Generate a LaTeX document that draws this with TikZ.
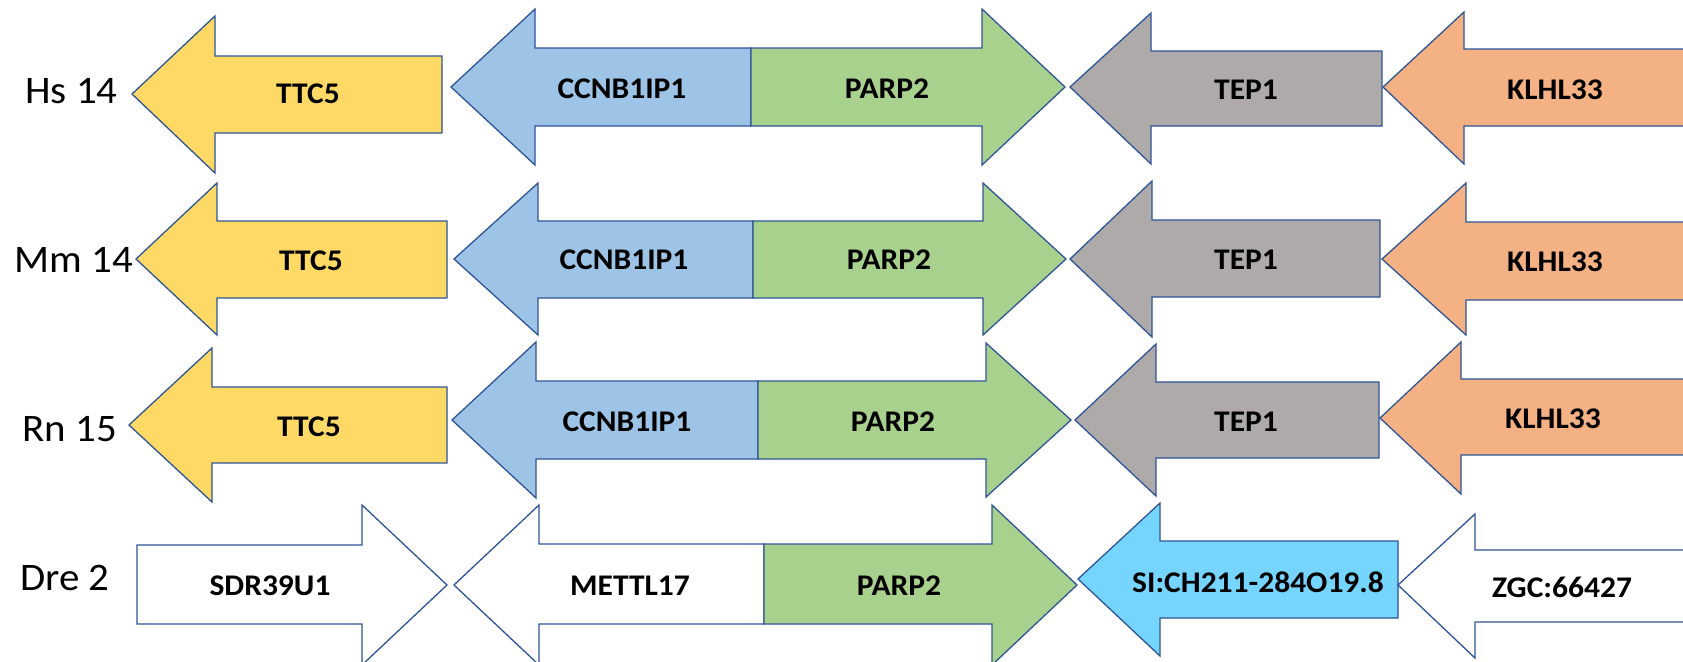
\documentclass[tikz,border=0pt]{standalone}
\usepackage{graphicx}
\usepackage{fontspec}
\setmainfont{Carlito}
\definecolor{outline}{HTML}{2F5597}
\definecolor{ttcfill}{HTML}{FFD966}
\definecolor{ccnfill}{HTML}{9DC3E6}
\definecolor{parpfill}{HTML}{A9D18E}
\definecolor{tepfill}{HTML}{AEAAAA}
\definecolor{klhfill}{HTML}{F4B183}
\definecolor{sifill}{HTML}{75D5FF}
\newcommand{\widetext}[1]{\scalebox{1.05}[1]{#1}}
\tikzset{
  genebox/.style={draw=outline, line width=0.65pt, line join=miter},
  genename/.style={font=\fontsize{15}{17}\selectfont\bfseries, inner sep=0pt, anchor=center},
  rowname/.style={font=\fontsize{19.5}{22}\selectfont, inner sep=0pt, anchor=base west}
}
% Block arrow: #1 tip x, #2 tip y, #3 head base x, #4 head top, #5 head bottom,
% #6 body top, #7 body bottom, #8 tail x, #9 fill colour
\newcommand{\genearrow}[9]{%
  \filldraw[genebox, fill=#9] (#1,#2) -- (#3,#4) -- (#3,#6) -- (#8,#6) -- (#8,#7)
    -- (#3,#7) -- (#3,#5) -- cycle;}
\begin{document}
\begin{tikzpicture}[x=0.5pt,y=-0.5pt]
\useasboundingbox (0,0) rectangle (1683,661);
\fill[white] (0,0) rectangle (1683,661);
\begin{scope}
\clip (0,0) rectangle (1683,661);

% Hs 14
\genearrow{132}{94}{215}{16}{173}{56}{133}{442}{ttcfill}
\genearrow{451}{87}{535}{9}{165}{48}{126}{751}{ccnfill}
\genearrow{1065}{87}{982}{9}{165}{48}{126}{751}{parpfill}
\genearrow{1070}{87}{1151}{13}{164}{51}{126}{1382}{tepfill}
\genearrow{1383}{87}{1464}{12}{164}{49}{126}{1700}{klhfill}

% Mm 14
\genearrow{136}{259}{217}{183}{335}{221}{298}{447}{ttcfill}
\genearrow{454}{259}{538}{183}{335}{221}{298}{753}{ccnfill}
\genearrow{1066}{259}{983}{183}{335}{221}{298}{753}{parpfill}
\genearrow{1070}{259}{1152}{181}{337}{220}{297}{1380}{tepfill}
\genearrow{1382}{259}{1466}{183}{335}{222}{300}{1700}{klhfill}

% Rn 15
\genearrow{129}{425}{212}{348}{502}{387}{463}{447}{ttcfill}
\genearrow{452}{420}{536}{342}{498}{381}{459}{758}{ccnfill}
\genearrow{1071}{420}{986}{343}{497}{381}{459}{758}{parpfill}
\genearrow{1075}{420}{1156}{344}{496}{382}{458}{1379}{tepfill}
\genearrow{1380}{418}{1461}{342}{494}{379}{455}{1700}{klhfill}

% Dre 2
\genearrow{447}{585}{362}{505}{665}{545}{624}{137}{white}
\genearrow{454}{585}{539}{505}{665}{544}{624}{764}{white}
\genearrow{1077}{585}{992}{505}{665}{544}{624}{764}{parpfill}
\genearrow{1078}{579}{1160}{503}{656}{541}{618}{1398}{sifill}
\genearrow{1398}{585}{1475}{514}{658}{550}{622}{1700}{white}
\end{scope}

% species / chromosome labels
\node[rowname] (hs) at (25,103) {\widetext{Hs 14}};
\node[rowname] (mm) at (14,272) {\widetext{Mm 14}};
\node[rowname] (rn) at (22,441) {\widetext{Rn 15}};
\node[rowname] (dre) at (20,590) {\widetext{Dre 2}};

% gene names
\node[genename] (hsTTC) at (308,94) {\widetext{TTC5}};
\node[genename] (hsCCN) at (622,89) {\widetext{CCNB1IP1}};
\node[genename] (hsPARP) at (887,89) {\widetext{PARP2}};
\node[genename] (hsTEP) at (1246,90) {\widetext{TEP1}};
\node[genename] (hsKLH) at (1555,90) {\widetext{KLHL33}};

\node[genename] (mmTTC) at (311,261) {\widetext{TTC5}};
\node[genename] (mmCCN) at (624,260) {\widetext{CCNB1IP1}};
\node[genename] (mmPARP) at (889,260) {\widetext{PARP2}};
\node[genename] (mmTEP) at (1246,260) {\widetext{TEP1}};
\node[genename] (mmKLH) at (1555,262) {\widetext{KLHL33}};

\node[genename] (rnTTC) at (309,427) {\widetext{TTC5}};
\node[genename] (rnCCN) at (627,422) {\widetext{CCNB1IP1}};
\node[genename] (rnPARP) at (893,422) {\widetext{PARP2}};
\node[genename] (rnTEP) at (1246,422) {\widetext{TEP1}};
\node[genename] (rnKLH) at (1553,419) {\widetext{KLHL33}};

\node[genename] (dreSDR) at (270,586) {\widetext{SDR39U1}};
\node[genename] (dreMET) at (630,586) {\widetext{METTL17}};
\node[genename] (drePARP) at (899,586) {\widetext{PARP2}};
\node[genename] (dreSI) at (1258,582) {\widetext{SI:CH211-284O19.8}};
\node[genename] (dreZGC) at (1562,587) {\widetext{ZGC:66427}};
\end{tikzpicture}
\end{document}
